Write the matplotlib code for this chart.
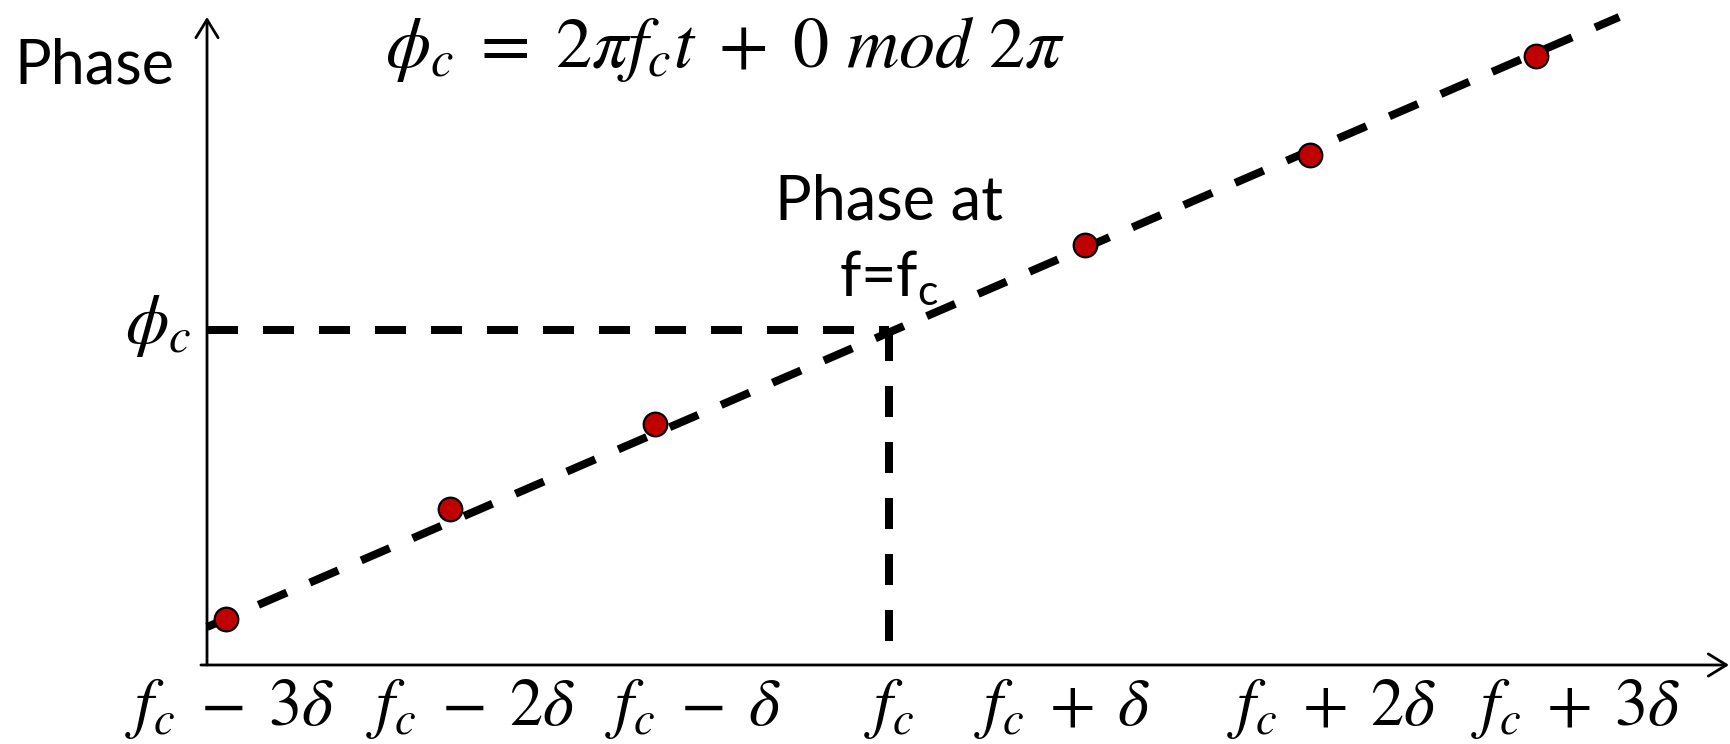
import matplotlib
matplotlib.use("Agg")
import matplotlib.pyplot as plt

# ---- data (x in units of delta relative to f_c, y = phase in arbitrary units)
point_x = [-2.947, -1.949, -1.041, 0.872, 1.873, 2.874]
point_y = [0.418, 1.419, 2.192, 3.817, 4.640, 5.534]
trend_x = [-3.031, 3.245]
trend_y = [0.345, 5.890]
fc_x = 0.0
phi_c = 3.045
fc_drop_bottom = 0.20
tick_pos = [-2.93, -1.86, -0.87, 0.0, 0.77, 1.97, 3.05]
tick_labels = [r'$f_c\;-\;3\delta$', r'$f_c\;-\;2\delta$', r'$f_c\;-\;\delta$', r'$f_c$',
               r'$f_c\;+\;\delta$', r'$f_c\;+\;2\delta$', r'$f_c\;+\;3\delta$']
equation = r'$\phi_c\;=\;2\pi f_c t\;+\;0\ mod\ 2\pi$'
ylabel_text = 'Phase'
annot_line1 = 'Phase at'
annot_line2 = r'f=f$_\mathrm{c}$'
phi_label = r'$\phi_c$'

plt.rcParams['mathtext.fontset'] = 'stix'
plt.rcParams['mathtext.rm'] = 'Lato'
plt.rcParams['font.family'] = ['Lato', 'DejaVu Sans']

W, H = 1731, 744
fig = plt.figure(figsize=(W / 100, H / 100), dpi=100)
left_px, right_px, bottom_px, top_px = 207, 1729, 665, 17
ax = fig.add_axes([left_px / W, (H - bottom_px) / H, (right_px - left_px) / W, (bottom_px - top_px) / H])
ax.set_xlim(-3.031, 3.733)
ax.set_ylim(0, 5.89)
for s in ax.spines.values():
    s.set_visible(False)
ax.set_yticks([])
ax.set_xticks(tick_pos)
ax.set_xticklabels(tick_labels, fontsize=48)
ax.tick_params(axis='x', length=0, pad=8)

# axes arrows
arrow_kw = dict(arrowstyle='->,head_length=1.3,head_width=0.8', lw=2.0, color='black',
                shrinkA=0, shrinkB=0, mutation_scale=10)
ax.annotate('', xy=(0, 1), xytext=(0, 0), xycoords='axes fraction', arrowprops=arrow_kw,
            annotation_clip=False)
ax.annotate('', xy=(1, 0), xytext=(-0.004, 0), xycoords='axes fraction', arrowprops=arrow_kw,
            annotation_clip=False)

lw_px = 8
lw = lw_px * 0.72
dash = (31 / lw_px, 25 / lw_px)
# trend line
ax.plot(trend_x, trend_y, color='black', lw=lw, dashes=dash, clip_on=False, zorder=2)
# reference lines at f_c
ax.plot([ax.get_xlim()[0], fc_x], [phi_c, phi_c], color='black', lw=lw, dashes=dash,
        clip_on=False, zorder=2)
ax.plot([fc_x, fc_x], [phi_c, fc_drop_bottom], color='black', lw=lw, dashes=dash,
        clip_on=False, zorder=2)
# points
ax.plot(point_x, point_y, linestyle='none', marker='o', markersize=17,
        markerfacecolor='#C00000', markeredgecolor='black', markeredgewidth=1.6,
        clip_on=False, zorder=3)

# texts
ax.text(-3.53, 5.445, ylabel_text, fontsize=44, ha='center', va='center')
ax.text(-0.73, 5.44, equation, fontsize=52, ha='center', va='baseline')
ax.text(0.0, 4.05, annot_line1, fontsize=44, ha='center', va='baseline')
ax.text(0.0, 3.35, annot_line2, fontsize=44, ha='center', va='baseline', math_fontfamily='custom')
ax.text(-3.10, phi_c - 0.12, phi_label, fontsize=50, ha='right', va='baseline')

fig.savefig('out.png', dpi=100)
